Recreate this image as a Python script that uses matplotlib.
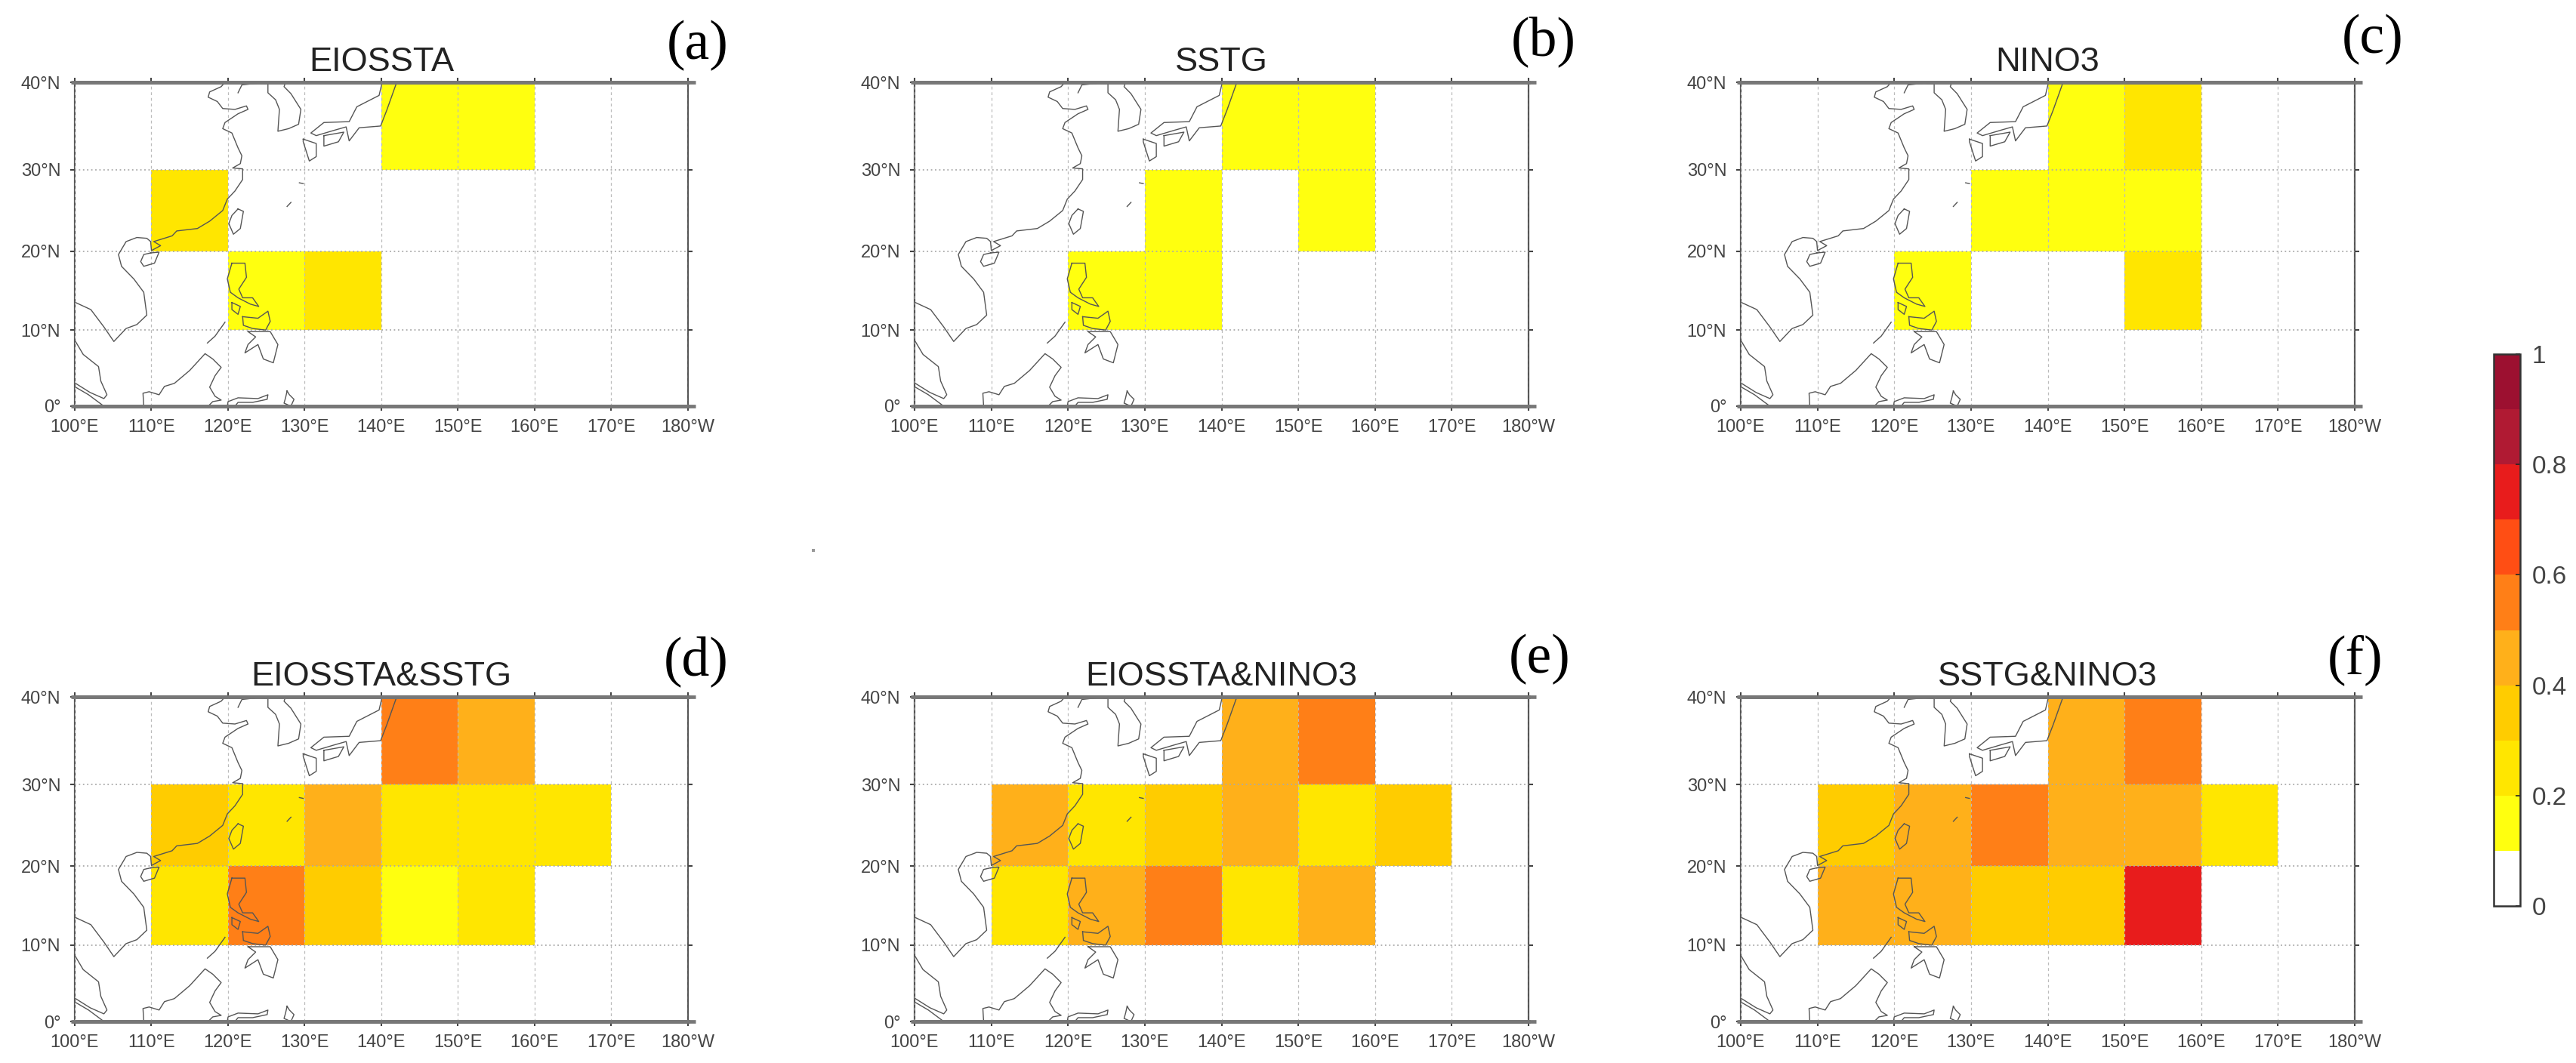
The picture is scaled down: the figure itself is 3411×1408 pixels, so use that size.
import numpy as np
import matplotlib
matplotlib.use('Agg')
import matplotlib.pyplot as plt
from matplotlib.colors import ListedColormap, BoundaryNorm
from matplotlib.cm import ScalarMappable
from matplotlib.lines import Line2D

plt.rcParams['font.family'] = ['Liberation Sans', 'DejaVu Sans']

# grid cells: columns 110E..170E, rows 10-20N, 20-30N, 30-40N (0 = no significance)
lon_edges = [100, 110, 120, 130, 140, 150, 160, 170, 180]
lat_edges = [0, 10, 20, 30, 40]

eiossta = [[0, 0, 0, 0, 0, 0, 0, 0],
           [0, 0, .15, .25, 0, 0, 0, 0],
           [0, .25, 0, 0, 0, 0, 0, 0],
           [0, 0, 0, 0, .15, .15, 0, 0]]
sstg = [[0, 0, 0, 0, 0, 0, 0, 0],
        [0, 0, .15, .15, 0, 0, 0, 0],
        [0, 0, 0, .15, 0, .15, 0, 0],
        [0, 0, 0, 0, .15, .15, 0, 0]]
nino3 = [[0, 0, 0, 0, 0, 0, 0, 0],
         [0, 0, .15, 0, 0, .25, 0, 0],
         [0, 0, 0, .15, .15, .15, 0, 0],
         [0, 0, 0, 0, .15, .25, 0, 0]]
eiossta_sstg = [[0, 0, 0, 0, 0, 0, 0, 0],
                [0, .25, .55, .35, .15, .25, 0, 0],
                [0, .35, .25, .45, .25, .25, .25, 0],
                [0, 0, 0, 0, .55, .45, 0, 0]]
eiossta_nino3 = [[0, 0, 0, 0, 0, 0, 0, 0],
                 [0, .25, .45, .55, .25, .45, 0, 0],
                 [0, .45, .25, .35, .45, .25, .35, 0],
                 [0, 0, 0, 0, .45, .55, 0, 0]]
sstg_nino3 = [[0, 0, 0, 0, 0, 0, 0, 0],
              [0, .45, .45, .35, .35, .75, 0, 0],
              [0, .35, .45, .55, .45, .45, .25, 0],
              [0, 0, 0, 0, .45, .55, 0, 0]]

titles = ['EIOSSTA', 'SSTG', 'NINO3', 'EIOSSTA&SSTG', 'EIOSSTA&NINO3', 'SSTG&NINO3']
letters = ['(a)', '(b)', '(c)', '(d)', '(e)', '(f)']
fields = [eiossta, sstg, nino3, eiossta_sstg, eiossta_nino3, sstg_nino3]

lon_labels = ['100°E', '110°E', '120°E', '130°E', '140°E', '150°E', '160°E', '170°E', '180°W']
lat_labels = ['0°', '10°N', '20°N', '30°N', '40°N']

colors = ['#ffffff', '#ffff0f', '#ffe600', '#ffcc00', '#ffb01a', '#ff7f17',
          '#ff4e14', '#e81c1c', '#b01a33', '#9c1030']
levels = [0, .1, .2, .3, .4, .5, .6, .7, .8, .9, 1]
cbar_ticks = [0, .2, .4, .6, .8, 1]
cbar_labels = ['0', '0.2', '0.4', '0.6', '0.8', '1']

# coastlines, lon/lat
coast_main = [(119.6, 40), (119.1, 39.5), (117.6, 38.9), (117.4, 38.3), (118.6, 37.8), (119.3, 37.0),
              (120.9, 36.9), (122.4, 37.3), (122.6, 36.9), (121.3, 36.4), (119.6, 35.4), (119.3, 34.7),
              (120.5, 34.2), (121.3, 32.5), (121.8, 31.6), (121.6, 30.7), (120.6, 30.2), (121.9, 30.1),
              (121.9, 28.8), (120.9, 27.4), (119.9, 26.4), (119.3, 25.0), (117.6, 23.7), (116.0, 22.8),
              (113.3, 22.5), (112.7, 21.9), (110.3, 21.2), (111.2, 20.7), (110.0, 20.1), (109.9, 21.2),
              (109.4, 21.6), (108.1, 21.7), (106.7, 21.2), (105.7, 19.6), (106.1, 18.1), (107.7, 16.5),
              (109.0, 14.8), (109.4, 11.9), (108.1, 10.7), (106.7, 10.2), (105.1, 8.5), (103.8, 10.4),
              (102.1, 12.6), (100.1, 13.5)]
malay = [(100.1, 8.5), (101.1, 6.8), (103.1, 5.2), (103.4, 3.3), (104.2, 1.5), (103.8, 1.0), (102.0, 1.8), (100.1, 3.0)]
sumatra = [(100.1, 2.5), (101.8, 1.5), (103.8, 0)]
borneo = [(109.0, 0), (108.9, 1.7), (109.7, 1.9), (111.0, 1.5), (111.7, 2.6), (113.0, 3.0), (115.0, 4.7),
          (117.0, 6.9), (118.0, 6.2), (119.1, 5.1), (118.3, 4.0), (117.6, 2.5), (118.3, 1.3), (119.1, 0.8),
          (118.0, 0.6), (117.4, 0)]
sulawesi = [(119.9, 0), (120.0, 0.6), (121.3, 1.1), (123.9, 1.0), (125.2, 1.5), (125.1, 0.9), (123.2, 0.5),
            (121.3, 0.5), (120.9, 0)]
halmahera = [(127.7, 2.0), (127.5, 1.1), (127.3, 0.4), (128.2, 0), (128.6, 0.9), (128.0, 1.5), (127.7, 2.0)]
taiwan = [(121.3, 25.2), (122.0, 24.9), (121.6, 22.8), (120.7, 22.1), (120.1, 23.4), (120.5, 24.4), (121.3, 25.2)]
hainan = [(109.9, 19.8), (111.0, 19.9), (110.4, 18.5), (109.0, 18.1), (108.6, 18.7), (109.0, 19.6), (109.9, 19.8)]
okinawa = [(127.7, 25.5), (128.2, 26.0)]
amami = [(129.3, 28.4), (129.8, 28.3)]
palawan = [(119.6, 11.0), (118.3, 9.2), (117.3, 8.3)]
luzon = [(120.5, 18.5), (122.2, 18.5), (122.4, 16.7), (121.4, 15.2), (121.9, 14.1), (123.2, 14.1), (124.0, 13.0),
         (122.9, 13.3), (121.3, 14.1), (120.3, 14.8), (119.9, 16.5), (120.5, 18.5)]
mindoro = [(120.5, 13.5), (121.6, 13.0), (121.3, 12.0), (120.5, 12.6), (120.5, 13.5)]
visayas = [(121.9, 11.7), (123.9, 11.5), (125.2, 12.4), (125.5, 11.1), (124.9, 10.0), (123.2, 10.2), (122.0, 10.6), (121.9, 11.7)]
mindanao = [(122.6, 9.8), (125.5, 9.8), (126.5, 8.1), (125.9, 5.7), (124.6, 6.2), (123.9, 8.1), (122.2, 7.0),
            (122.6, 8.1), (123.6, 9.1), (122.6, 9.8)]
korea = [(121.3, 38.8), (121.8, 39.7), (123.9, 39.9), (125.2, 39.8), (125.2, 38.8), (126.2, 38.0), (126.7, 36.9),
         (126.5, 34.4), (127.9, 34.7), (129.2, 35.2), (129.5, 36.9), (128.2, 38.7), (127.3, 39.5), (127.5, 40)]
honshu = [(140.1, 40), (139.7, 38.5), (136.8, 37.2), (135.8, 35.5), (132.5, 35.4), (130.8, 34.2), (131.5, 33.9),
          (133.8, 34.5), (135.4, 34.9), (135.8, 33.3), (137.1, 34.8), (139.9, 35.0), (140.7, 36.8), (142.0, 40)]
kyushu = [(129.8, 33.5), (129.8, 33.2), (130.6, 31.0), (131.5, 31.5), (131.5, 33.0), (129.8, 33.5)]
shikoku = [(132.5, 33.9), (135.1, 34.3), (134.4, 33.2), (132.5, 32.7), (132.5, 33.9)]
coasts = [coast_main, malay, sumatra, borneo, sulawesi, halmahera, taiwan, hainan, okinawa, amami, palawan,
          luzon, mindoro, visayas, mindanao, korea, honshu, kyushu, shikoku]

W, H = 3412, 1408
fig = plt.figure(figsize=(W / 100, H / 100), dpi=100, facecolor='white')


def px_axes(left, top, right, bottom):
    return fig.add_axes([left / W, 1 - bottom / H, (right - left) / W, (bottom - top) / H])


# the maps are mercator-like, gridlines not evenly spaced
lat_knots = [0, 10, 20, 30, 40]
frac_knots = [0, .235, .478, .730, 1]


def lat_to_frac(v):
    return np.interp(v, lat_knots, frac_knots)


def frac_to_lat(v):
    return np.interp(v, frac_knots, lat_knots)


cmap = ListedColormap(colors)
norm = BoundaryNorm(levels, cmap.N)

boxes = [(99, 109, 911, 538), (1211, 109, 2024, 538), (2305, 109, 3118, 538),
         (99, 923, 911, 1353), (1211, 923, 2024, 1353), (2305, 923, 3118, 1353)]
letter_pos = [(924, 60), (2044, 55), (3142, 52), (922, 876), (2039, 873), (3119, 874)]

for box, field, title, letter, lpos in zip(boxes, fields, titles, letters, letter_pos):
    ax = px_axes(*box)
    ax.set_yscale('function', functions=(lat_to_frac, frac_to_lat))
    ax.pcolormesh(lon_edges, lat_edges, np.array(field), cmap=cmap, norm=norm, zorder=1)
    ax.set_xlim(100, 180)
    ax.set_ylim(0, 40)
    ax.set_xticks(lon_edges)
    ax.set_xticklabels(lon_labels)
    ax.set_yticks(lat_edges)
    ax.set_yticklabels(lat_labels)
    ax.minorticks_off()
    ax.tick_params(axis='x', top=True, bottom=True, length=4.5, width=1.5, color='#444',
                   labelsize=17, labelcolor='#444', pad=8)
    ax.tick_params(axis='y', left=True, right=True, length=4.5, width=1.5, color='#444',
                   labelsize=17, labelcolor='#444', pad=9)
    ax.set_axisbelow(False)
    ax.grid(axis='x', linestyle=(0, (3, 3)), color='#bbbbbb', linewidth=0.9, zorder=2)
    ax.grid(axis='y', linestyle=(0, (1, 2)), color='#aaaaaa', linewidth=1.3, zorder=2)
    for line in coasts:
        xs = [p[0] for p in line]
        ys = [p[1] for p in line]
        ax.plot(xs, ys, color='#555555', linewidth=1.0, zorder=3)
    for side in ['left', 'right']:
        ax.spines[side].set_color('#555555')
        ax.spines[side].set_linewidth(1.6)
    for side in ['top', 'bottom']:
        ax.spines[side].set_color('#777777')
        ax.spines[side].set_linewidth(3.4)
        # the thick rules run a little past the frame
        yy = 1 if side == 'top' else 0
        ax.plot([-0.006, 1.012], [yy, yy], transform=ax.transAxes, clip_on=False,
                color='#777777', linewidth=3.4, solid_capstyle='butt', zorder=4)
    ax.set_title(title, fontsize=32.5, color='#222222', pad=10.5)
    fig.text(lpos[0] / W, 1 - lpos[1] / H, letter, fontsize=53, family='Liberation Serif',
             ha='center', va='center', color='black')

cax = px_axes(3302, 469, 3337, 1200)
cbar = fig.colorbar(ScalarMappable(norm=norm, cmap=cmap), cax=cax, ticks=cbar_ticks, spacing='proportional')
cbar.set_ticklabels(cbar_labels)
cbar.ax.tick_params(direction='in', length=4, width=1.2, color='#222222', labelsize=24,
                    labelcolor='#444444', pad=11)
cbar.ax.minorticks_off()
cbar.outline.set_edgecolor('#333333')
cbar.outline.set_linewidth(1.8)

# stray speck between the rows
fig.add_artist(Line2D([1077 / W], [1 - 729 / H], marker='s', markersize=3, color='#999999',
                      markeredgewidth=0, transform=fig.transFigure))

fig.savefig('out.png', dpi=100)
